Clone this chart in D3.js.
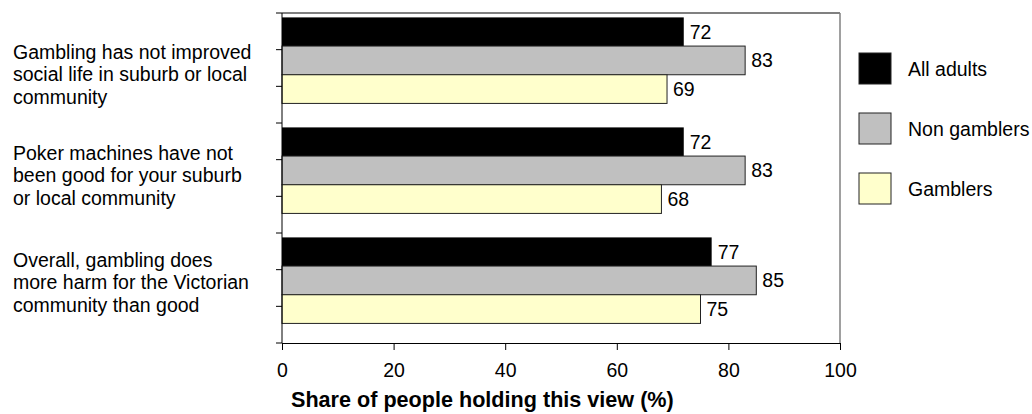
<!DOCTYPE html>
<html>
<head>
<meta charset="utf-8">
<script src="https://cdn.jsdelivr.net/npm/d3@7"></script>
<style>
  html, body { margin: 0; padding: 0; background: #fff; }
  svg { display: block; font-family: "Liberation Sans", Arial, sans-serif; }
</style>
</head>
<body>
<svg id="chart" width="1032" height="414"></svg>
<script>
// ---- data ----
const categories = [
  "Gambling has not improved social life in suburb or local community",
  "Poker machines have not been good for your suburb or local community",
  "Overall, gambling does more harm for the Victorian community than good"
];
const categoryLines = [
  ["Gambling has not improved", "social life in suburb or local", "community"],
  ["Poker machines have not", "been good for your suburb", "or local community"],
  ["Overall, gambling does", "more harm for the Victorian", "community than good"]
];
const seriesNames = ["All adults", "Non gamblers", "Gamblers"];
const allAdults   = [72, 72, 77];
const nonGamblers = [83, 83, 85];
const gamblers    = [69, 68, 75];
const xTicks = [0, 20, 40, 60, 80, 100];
const xTitle = "Share of people holding this view (%)";

// ---- layout ----
const svg = d3.select("#chart");
const pLeft = 282, pRight = 840, pTop = 13, pBottom = 343;
const fs = 19.5;
const colors = { "All adults": "#000000", "Non gamblers": "#c0c0c0", "Gamblers": "#ffffcc" };
const seriesValues = { "All adults": allAdults, "Non gamblers": nonGamblers, "Gamblers": gamblers };

const x = d3.scaleLinear().domain([0, 100]).range([pLeft, pRight]);
const y = d3.scaleBand().domain(categories).range([pTop, pBottom]).padding(0);
const groupH = y.bandwidth();
const yInner = d3.scaleBand().domain(seriesNames).range([groupH * 0.04, groupH * 0.04 + groupH * 0.782]).padding(0);

// frame (top & right grey)
svg.append("line").attr("x1", pLeft).attr("x2", pRight).attr("y1", pTop).attr("y2", pTop)
  .attr("stroke", "#808080").attr("stroke-width", 2);
svg.append("line").attr("x1", pRight).attr("x2", pRight).attr("y1", pTop).attr("y2", pBottom)
  .attr("stroke", "#808080").attr("stroke-width", 1.5);

// bars
const rows = [];
categories.forEach((c, i) => seriesNames.forEach(s => rows.push({ cat: c, s, v: seriesValues[s][i] })));
const g = svg.append("g");
g.selectAll("rect").data(rows).enter().append("rect")
  .attr("x", x(0))
  .attr("y", d => y(d.cat) + yInner(d.s))
  .attr("width", d => x(d.v) - x(0))
  .attr("height", yInner.bandwidth())
  .attr("fill", d => colors[d.s])
  .attr("stroke", d => d.s === "All adults" ? "none" : "#222")
  .attr("stroke-width", 1);

g.selectAll("text.val").data(rows).enter().append("text")
  .attr("class", "val")
  .attr("x", d => x(d.v) + 6)
  .attr("y", d => y(d.cat) + yInner(d.s) + yInner.bandwidth() / 2)
  .attr("dy", "0.36em")
  .attr("font-size", fs)
  .attr("fill", "#000")
  .text(d => d.v);

// left axis with 9 interval ticks
const yTickVals = d3.range(10).map(i => pTop + (pBottom - pTop) * i / 9);
svg.append("line").attr("x1", pLeft).attr("x2", pLeft).attr("y1", pTop).attr("y2", pBottom)
  .attr("stroke", "#000").attr("stroke-width", 1);
svg.selectAll("line.ytick").data(yTickVals).enter().append("line")
  .attr("class", "ytick")
  .attr("x1", pLeft - 6).attr("x2", pLeft).attr("y1", d => d).attr("y2", d => d)
  .attr("stroke", "#000").attr("stroke-width", 1);

// bottom axis
const xAxis = d3.axisBottom(x).tickValues(xTicks).tickSize(7).tickPadding(13).tickSizeOuter(0);
const xa = svg.append("g").attr("transform", `translate(0,${pBottom})`).call(xAxis);
xa.select(".domain").attr("stroke", "#000");
xa.selectAll(".tick line").attr("stroke", "#000");
xa.selectAll(".tick text").attr("font-size", fs).attr("font-family", "Liberation Sans, Arial, sans-serif").attr("fill", "#000");

// x title
svg.append("text").attr("x", 291).attr("y", 407)
  .attr("font-size", 21.6).attr("font-weight", "bold").attr("fill", "#000")
  .text(xTitle);

// category labels
const lh = 22.5;
const labelOffsets = [14, 5, 2];
categories.forEach((c, i) => {
  const cy = y(c) + yInner(seriesNames[1]) + yInner.bandwidth() / 2 + labelOffsets[i];
  const t = svg.append("text").attr("x", 13).attr("font-size", fs).attr("fill", "#000");
  categoryLines[i].forEach((ln, j) => {
    t.append("tspan").attr("x", 13).attr("y", cy + (j - 1) * lh).attr("dy", "0.36em").text(ln);
  });
});

// legend
const leg = svg.append("g");
seriesNames.forEach((s, i) => {
  const ly = 53 + i * 60;
  leg.append("rect").attr("x", 859).attr("y", ly).attr("width", 32).attr("height", 31)
    .attr("fill", colors[s]).attr("stroke", "#222").attr("stroke-width", 1);
  leg.append("text").attr("x", 908).attr("y", ly + 15.5).attr("dy", "0.36em")
    .attr("font-size", fs).attr("fill", "#000").text(s);
});
</script>
</body>
</html>
